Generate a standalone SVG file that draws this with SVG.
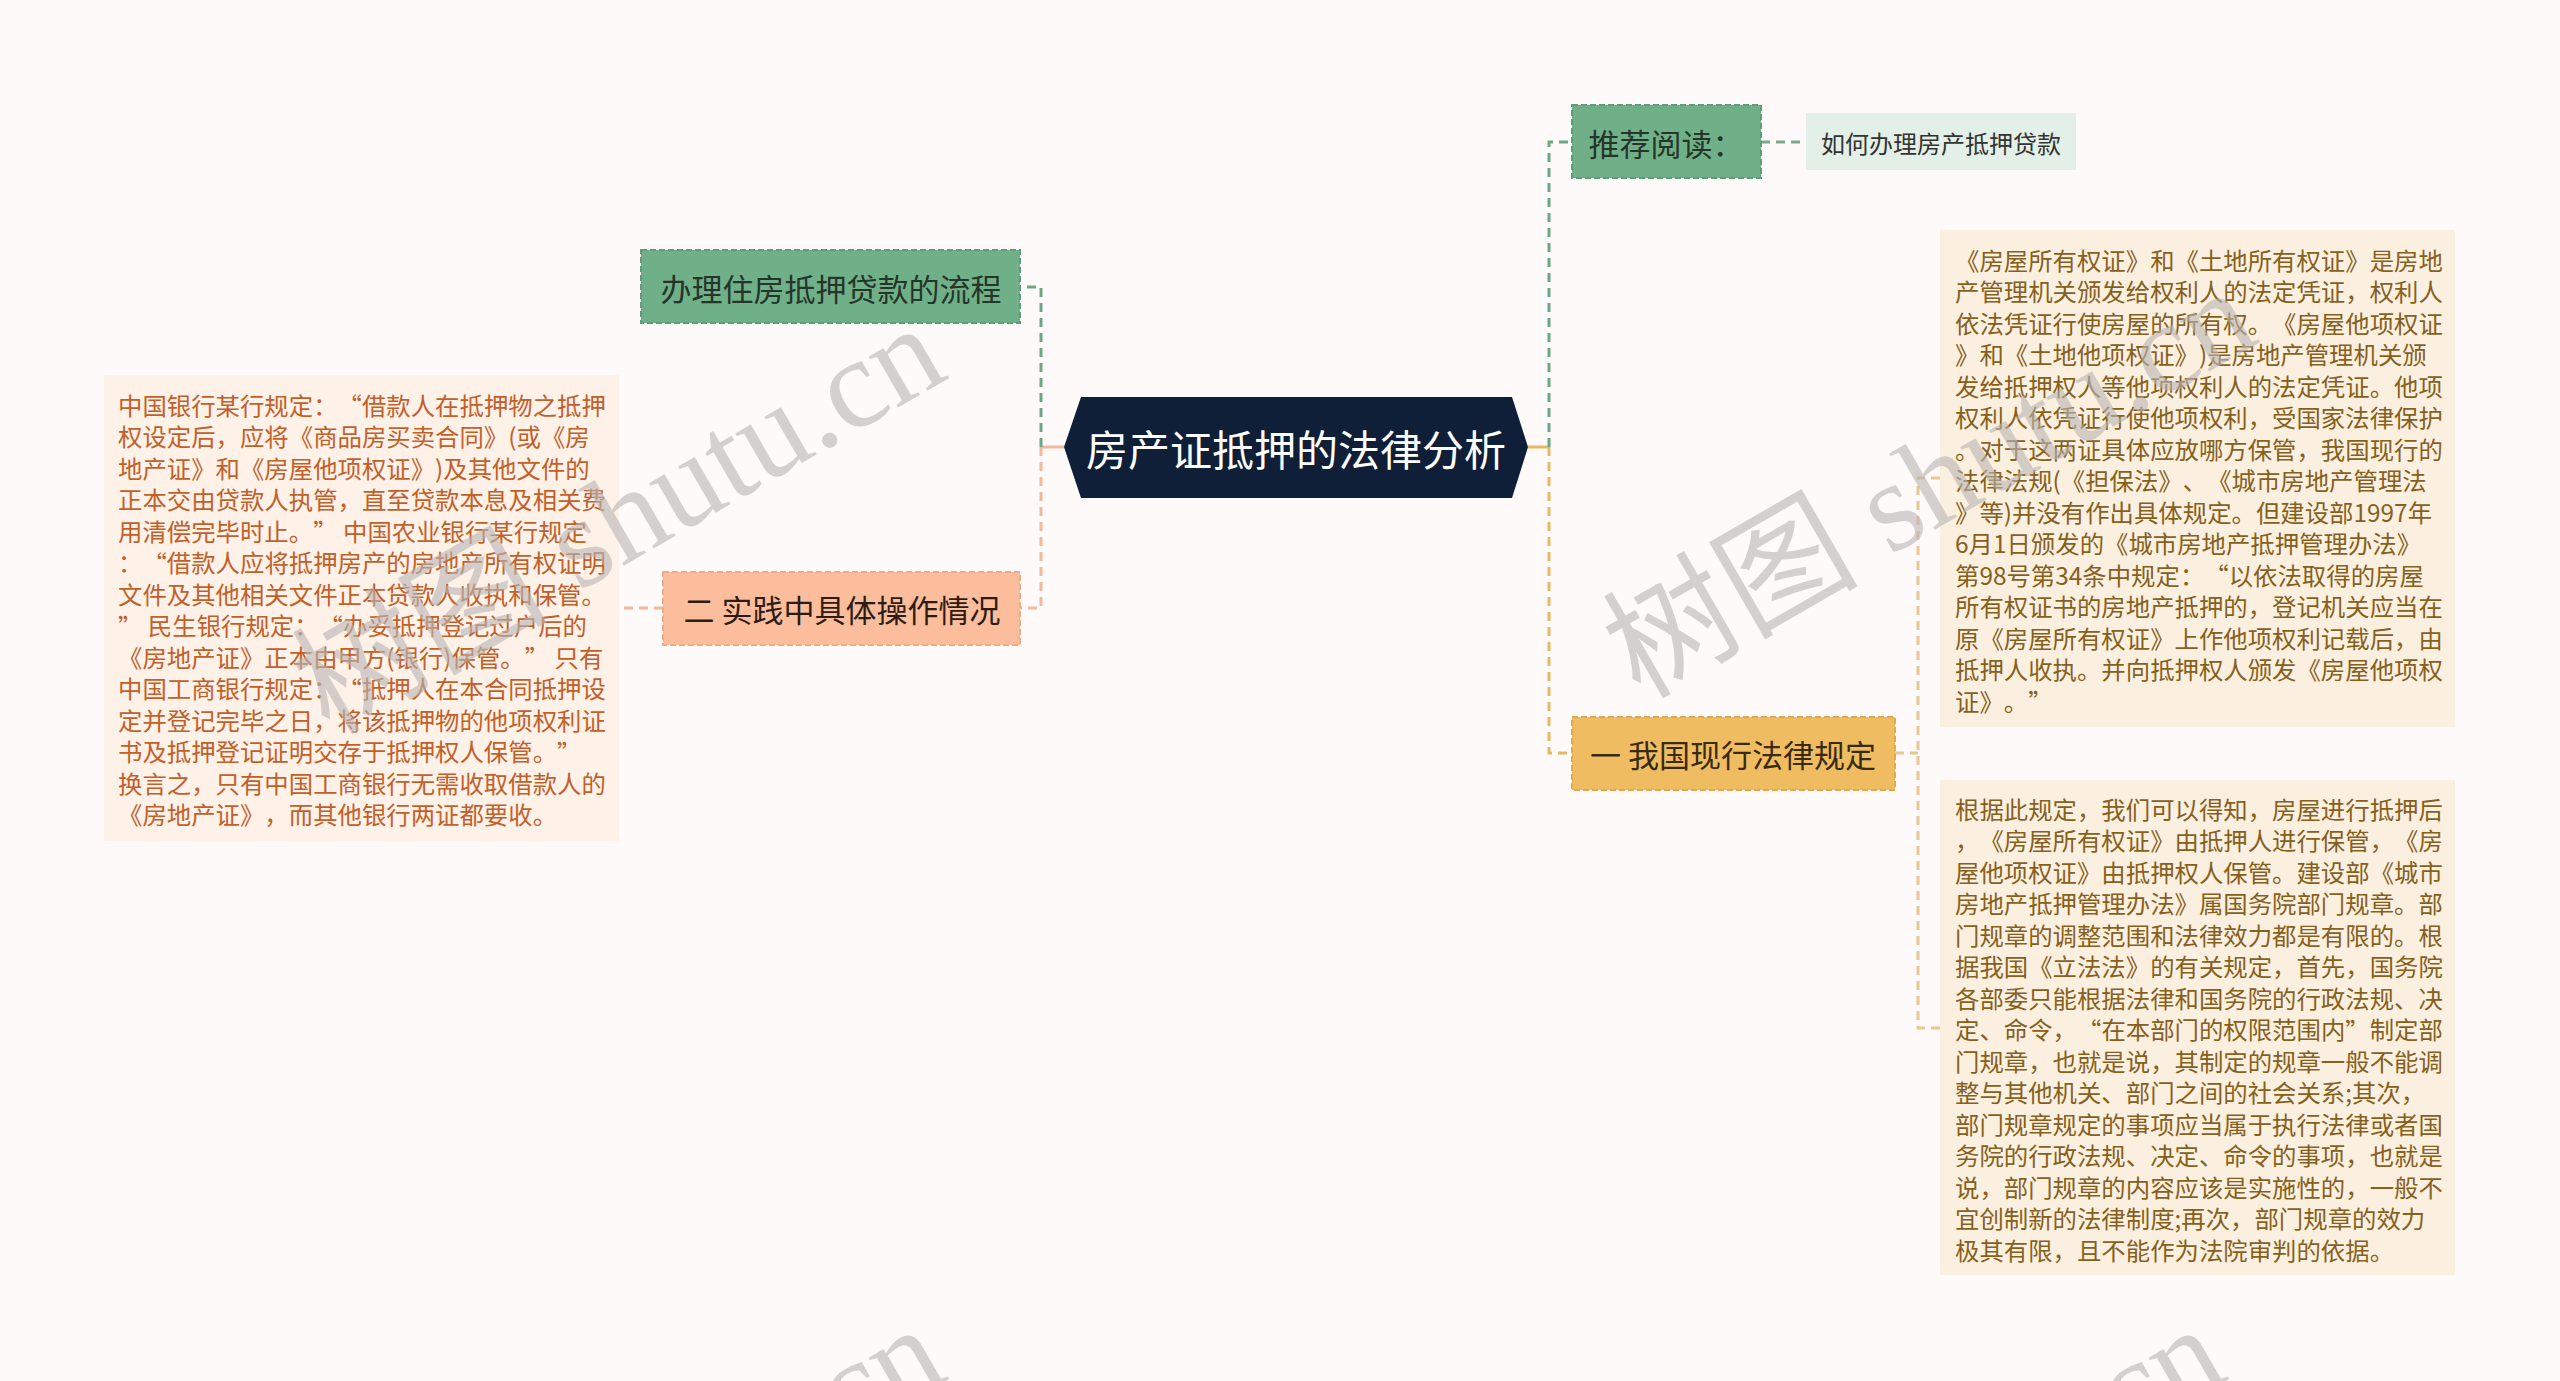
<svg xmlns="http://www.w3.org/2000/svg" width="2560" height="1381" viewBox="0 0 2560 1381">
<style>
.bg{fill:#fdfaf9}
.t{font-family:"Noto Sans CJK SC","Noto Sans",sans-serif;dominant-baseline:central;text-spacing-trim:space-all}
.mid{text-anchor:middle}
.lt{font-size:24.4px;fill:#c2602a}
.rt{font-size:24.4px;fill:#86601c}
.nt{font-size:31px}
.q{font-feature-settings:"fwid" 1}
.wm{font-family:"Liberation Serif","Noto Sans CJK SC",serif;font-size:128px;fill:#b9b5b4;opacity:0.6}
.c{fill:none;stroke-width:3}
.d{stroke-dasharray:9 6}
</style>
<rect class="bg" x="0" y="0" width="2560" height="1381"/>

<g id="connectors">
  <line class="c" x1="1064" y1="447" x2="1041" y2="447" stroke="#f4b89a"/>
  <path class="c d" d="M1041 447 V287 H1020" stroke="#6aa883"/>
  <path class="c d" d="M1041 447 V608 H1020" stroke="#f4b89a"/>
  <line class="c d" x1="663" y1="608" x2="619" y2="608" stroke="#f4b89a" stroke-width="2"/>
  <line class="c" x1="1528" y1="447" x2="1549" y2="447" stroke="#eab865"/>
  <path class="c d" d="M1549 447 V142 H1572" stroke="#6aa883"/>
  <path class="c d" d="M1549 447 V753 H1572" stroke="#eab865"/>
  <line class="c d" x1="1761" y1="142" x2="1806" y2="142" stroke="#7aa88a" stroke-width="2"/>
  <path class="c d" d="M1895 753 H1918 M1940 478 H1918 V1028 H1940" stroke="#e9c794" stroke-width="2"/>
</g>

<g id="center">
  <polygon points="1064,447 1081,397 1512,397 1528,447 1512,498 1081,498" fill="#0f1f38"/>
  <text class="t mid" x="1296" y="447" font-size="42" fill="#ffffff">房产证抵押的法律分析</text>
</g>

<g id="n-liucheng">
  <rect x="641" y="250" width="379" height="73" fill="#70b088" stroke="#5e9d77" stroke-width="2" stroke-dasharray="6 3"/>
  <text class="t mid nt" x="831" y="287" fill="#253529">办理住房抵押贷款的流程</text>
</g>

<g id="n-shijian">
  <rect x="663" y="572" width="357" height="73" fill="#fbbd9c" stroke="#f2ab89" stroke-width="2" stroke-dasharray="6 3"/>
  <text class="t mid nt" x="842" y="608" fill="#2d1c14">二 实践中具体操作情况</text>
</g>

<g id="n-left-detail">
  <rect x="104" y="375" width="515" height="466" fill="#fdf1e8"/>
  <g class="t lt">
    <text x="118" y="404">中国银行某行规定：<tspan class="q">“</tspan>借款人在抵押物之抵押</text>
    <text x="118" y="435.5">权设定后，应将《商品房买卖合同》(或《房</text>
    <text x="118" y="467">地产证》和《房屋他项权证》)及其他文件的</text>
    <text x="118" y="498.5">正本交由贷款人执管，直至贷款本息及相关费</text>
    <text x="118" y="530">用清偿完毕时止。<tspan class="q">”</tspan> 中国农业银行某行规定</text>
    <text x="118" y="561.5">：<tspan class="q">“</tspan>借款人应将抵押房产的房地产所有权证明</text>
    <text x="118" y="593">文件及其他相关文件正本贷款人收执和保管。</text>
    <text x="118" y="624.5"><tspan class="q">”</tspan> 民生银行规定：<tspan class="q">“</tspan>办妥抵押登记过户后的</text>
    <text x="118" y="656">《房地产证》正本由甲方(银行)保管。<tspan class="q">”</tspan> 只有</text>
    <text x="118" y="687.5">中国工商银行规定：<tspan class="q">“</tspan>抵押人在本合同抵押设</text>
    <text x="118" y="719">定并登记完毕之日，将该抵押物的他项权利证</text>
    <text x="118" y="750.5">书及抵押登记证明交存于抵押权人保管。<tspan class="q">”</tspan></text>
    <text x="118" y="782">换言之，只有中国工商银行无需收取借款人的</text>
    <text x="118" y="813.5">《房地产证》，而其他银行两证都要收。</text>
  </g>
</g>

<g id="n-tuijian">
  <rect x="1572" y="105" width="189" height="73" fill="#70b088" stroke="#5e9d77" stroke-width="2" stroke-dasharray="6 3"/>
  <text class="t mid nt" x="1666" y="142" fill="#253529">推荐阅读：</text>
</g>

<g id="n-link">
  <rect x="1806" y="113" width="270" height="57" fill="#e3f0e7"/>
  <text class="t mid" x="1941" y="142" font-size="24" fill="#333333">如何办理房产抵押贷款</text>
</g>

<g id="n-guiding">
  <rect x="1572" y="717" width="323" height="73" fill="#efbc62" stroke="#e2a84b" stroke-width="2" stroke-dasharray="6 3"/>
  <text class="t mid nt" x="1733" y="753" fill="#3a2a10">一 我国现行法律规定</text>
</g>

<g id="n-right-detail-1">
  <rect x="1940" y="230" width="515" height="497" fill="#fbf0e0"/>
  <g class="t rt">
    <text x="1955" y="259">《房屋所有权证》和《土地所有权证》是房地</text>
    <text x="1955" y="290.5">产管理机关颁发给权利人的法定凭证，权利人</text>
    <text x="1955" y="322">依法凭证行使房屋的所有权。《房屋他项权证</text>
    <text x="1955" y="353.5">》和《土地他项权证》)是房地产管理机关颁</text>
    <text x="1955" y="385">发给抵押权人等他项权利人的法定凭证。他项</text>
    <text x="1955" y="416.5">权利人依凭证行使他项权利，受国家法律保护</text>
    <text x="1955" y="448">。对于这两证具体应放哪方保管，我国现行的</text>
    <text x="1955" y="479.5">法律法规(《担保法》、《城市房地产管理法</text>
    <text x="1955" y="511">》等)并没有作出具体规定。但建设部1997年</text>
    <text x="1955" y="542.5">6月1日颁发的《城市房地产抵押管理办法》</text>
    <text x="1955" y="574">第98号第34条中规定：<tspan class="q">“</tspan>以依法取得的房屋</text>
    <text x="1955" y="605.5">所有权证书的房地产抵押的，登记机关应当在</text>
    <text x="1955" y="637">原《房屋所有权证》上作他项权利记载后，由</text>
    <text x="1955" y="668.5">抵押人收执。并向抵押权人颁发《房屋他项权</text>
    <text x="1955" y="700">证》。<tspan class="q">”</tspan></text>
  </g>
</g>

<g id="n-right-detail-2">
  <rect x="1940" y="780" width="515" height="495" fill="#fbf0e0"/>
  <g class="t rt">
    <text x="1955" y="808">根据此规定，我们可以得知，房屋进行抵押后</text>
    <text x="1955" y="839.5">，《房屋所有权证》由抵押人进行保管，《房</text>
    <text x="1955" y="871">屋他项权证》由抵押权人保管。建设部《城市</text>
    <text x="1955" y="902.5">房地产抵押管理办法》属国务院部门规章。部</text>
    <text x="1955" y="934">门规章的调整范围和法律效力都是有限的。根</text>
    <text x="1955" y="965.5">据我国《立法法》的有关规定，首先，国务院</text>
    <text x="1955" y="997">各部委只能根据法律和国务院的行政法规、决</text>
    <text x="1955" y="1028.5">定、命令，<tspan class="q">“</tspan>在本部门的权限范围内<tspan class="q">”</tspan>制定部</text>
    <text x="1955" y="1060">门规章，也就是说，其制定的规章一般不能调</text>
    <text x="1955" y="1091.5">整与其他机关、部门之间的社会关系;其次，</text>
    <text x="1955" y="1123">部门规章规定的事项应当属于执行法律或者国</text>
    <text x="1955" y="1154.5">务院的行政法规、决定、命令的事项，也就是</text>
    <text x="1955" y="1186">说，部门规章的内容应该是实施性的，一般不</text>
    <text x="1955" y="1217.5">宜创制新的法律制度;再次，部门规章的效力</text>
    <text x="1955" y="1249">极其有限，且不能作为法院审判的依据。</text>
  </g>
</g>

<g id="watermarks">
  <text class="wm" transform="translate(329,736) rotate(-30)">树图 shutu.cn</text>
  <text class="wm" transform="translate(1640,700) rotate(-30)">树图 shutu.cn</text>
  <text class="wm" transform="translate(329,1737) rotate(-30)">树图 shutu.cn</text>
  <text class="wm" transform="translate(1609,1737) rotate(-30)">树图 shutu.cn</text>
</g>
</svg>
